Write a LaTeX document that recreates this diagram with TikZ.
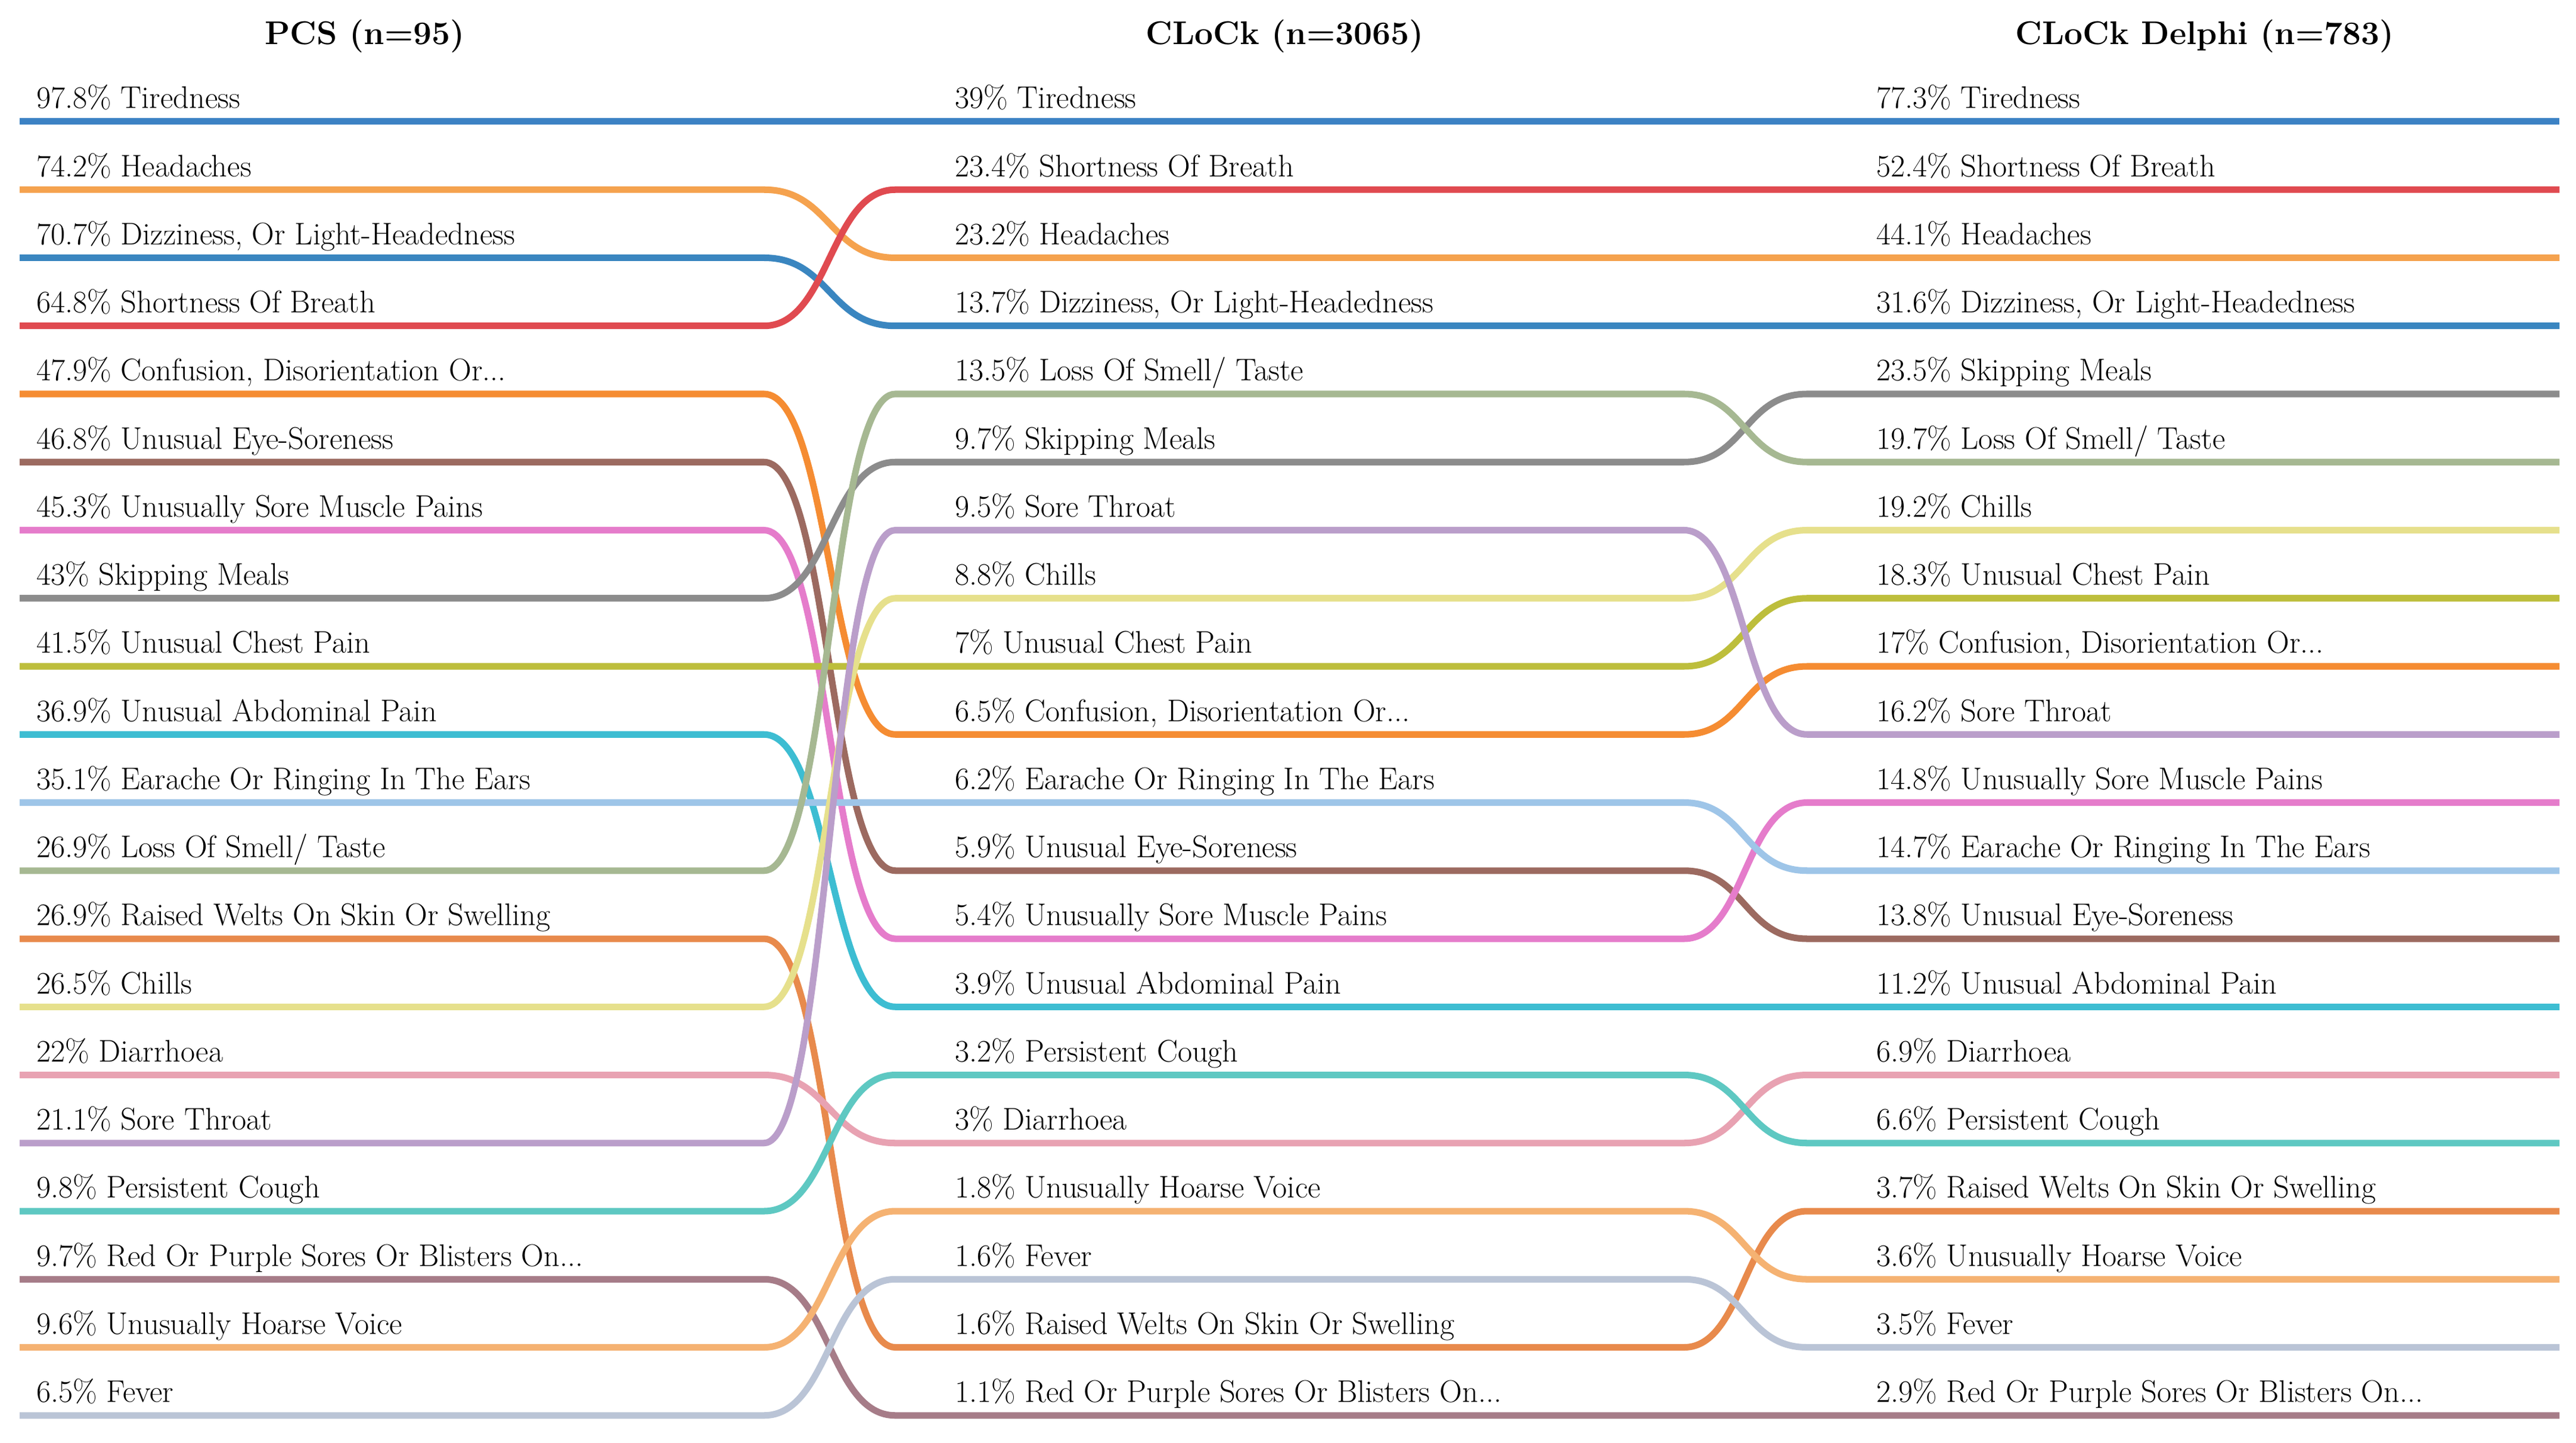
\documentclass[tikz,border=0pt]{standalone}
\begin{document}
\begin{tikzpicture}[x=1pt,y=-1pt,
  ln/.style={line width=4pt},
  lab/.style={anchor=base west,inner sep=0pt,font=\fontsize{19}{22}\selectfont},
  hd/.style={anchor=base,inner sep=0pt,font=\bfseries\fontsize{20}{24}\selectfont}]
\useasboundingbox (0,0) rectangle (1568,878);
\def\R#1{{74+41.45*(#1)}}
\newcommand\bump[4]{\draw[ln,#1] (12,\R{#2}) -- (465,\R{#2}) .. controls (505,\R{#2}) and (505,\R{#3}) .. (545,\R{#3}) -- (1025,\R{#3}) .. controls (1062,\R{#3}) and (1062,\R{#4}) .. (1100,\R{#4}) -- (1558,\R{#4});}
\newcommand\lbl[4]{\node[lab] (#1#3) at (#2,{74+41.45*#3-8}) {#4};}
\definecolor{cTir}{HTML}{3C82C4}
\definecolor{cHea}{HTML}{F5A24E}
\definecolor{cDiz}{HTML}{3A86C0}
\definecolor{cSob}{HTML}{E04A50}
\definecolor{cCon}{HTML}{F58C32}
\definecolor{cEye}{HTML}{9C6A60}
\definecolor{cMus}{HTML}{E57CCB}
\definecolor{cSki}{HTML}{8C8C8C}
\definecolor{cChe}{HTML}{BDBE3C}
\definecolor{cAbd}{HTML}{3DBDD2}
\definecolor{cEar}{HTML}{9EC5E8}
\definecolor{cSme}{HTML}{A6B892}
\definecolor{cWel}{HTML}{E88A4C}
\definecolor{cChi}{HTML}{E6E08C}
\definecolor{cDia}{HTML}{E8A2B2}
\definecolor{cThr}{HTML}{BA9ECA}
\definecolor{cCou}{HTML}{5EC8C2}
\definecolor{cRed}{HTML}{A67C88}
\definecolor{cHoa}{HTML}{F5B272}
\definecolor{cFev}{HTML}{BAC4D6}
\bump{cTir}{0}{0}{0}
\bump{cHea}{1}{2}{2}
\bump{cDiz}{2}{3}{3}
\bump{cSob}{3}{1}{1}
\bump{cCon}{4}{9}{8}
\bump{cEye}{5}{11}{12}
\bump{cMus}{6}{12}{10}
\bump{cSki}{7}{5}{4}
\bump{cChe}{8}{8}{7}
\bump{cAbd}{9}{13}{13}
\bump{cEar}{10}{10}{11}
\bump{cSme}{11}{4}{5}
\bump{cWel}{12}{18}{16}
\bump{cChi}{13}{7}{6}
\bump{cDia}{14}{15}{14}
\bump{cThr}{15}{6}{9}
\bump{cCou}{16}{14}{15}
\bump{cRed}{17}{19}{19}
\bump{cHoa}{18}{16}{17}
\bump{cFev}{19}{17}{18}
\node[hd] (h1) at (222,27) {PCS (n=95)};
\node[hd] (h2) at (782,27) {CLoCk (n=3065)};
\node[hd] (h3) at (1342,27) {CLoCk Delphi (n=783)};
\lbl{a}{22}{0}{97.8\% Tiredness}
\lbl{a}{22}{1}{74.2\% Headaches}
\lbl{a}{22}{2}{70.7\% Dizziness, Or Light-Headedness}
\lbl{a}{22}{3}{64.8\% Shortness Of Breath}
\lbl{a}{22}{4}{47.9\% Confusion, Disorientation Or...}
\lbl{a}{22}{5}{46.8\% Unusual Eye-Soreness}
\lbl{a}{22}{6}{45.3\% Unusually Sore Muscle Pains}
\lbl{a}{22}{7}{43\% Skipping Meals}
\lbl{a}{22}{8}{41.5\% Unusual Chest Pain}
\lbl{a}{22}{9}{36.9\% Unusual Abdominal Pain}
\lbl{a}{22}{10}{35.1\% Earache Or Ringing In The Ears}
\lbl{a}{22}{11}{26.9\% Loss Of Smell/ Taste}
\lbl{a}{22}{12}{26.9\% Raised Welts On Skin Or Swelling}
\lbl{a}{22}{13}{26.5\% Chills}
\lbl{a}{22}{14}{22\% Diarrhoea}
\lbl{a}{22}{15}{21.1\% Sore Throat}
\lbl{a}{22}{16}{9.8\% Persistent Cough}
\lbl{a}{22}{17}{9.7\% Red Or Purple Sores Or Blisters On...}
\lbl{a}{22}{18}{9.6\% Unusually Hoarse Voice}
\lbl{a}{22}{19}{6.5\% Fever}
\lbl{b}{581}{0}{39\% Tiredness}
\lbl{b}{581}{1}{23.4\% Shortness Of Breath}
\lbl{b}{581}{2}{23.2\% Headaches}
\lbl{b}{581}{3}{13.7\% Dizziness, Or Light-Headedness}
\lbl{b}{581}{4}{13.5\% Loss Of Smell/ Taste}
\lbl{b}{581}{5}{9.7\% Skipping Meals}
\lbl{b}{581}{6}{9.5\% Sore Throat}
\lbl{b}{581}{7}{8.8\% Chills}
\lbl{b}{581}{8}{7\% Unusual Chest Pain}
\lbl{b}{581}{9}{6.5\% Confusion, Disorientation Or...}
\lbl{b}{581}{10}{6.2\% Earache Or Ringing In The Ears}
\lbl{b}{581}{11}{5.9\% Unusual Eye-Soreness}
\lbl{b}{581}{12}{5.4\% Unusually Sore Muscle Pains}
\lbl{b}{581}{13}{3.9\% Unusual Abdominal Pain}
\lbl{b}{581}{14}{3.2\% Persistent Cough}
\lbl{b}{581}{15}{3\% Diarrhoea}
\lbl{b}{581}{16}{1.8\% Unusually Hoarse Voice}
\lbl{b}{581}{17}{1.6\% Fever}
\lbl{b}{581}{18}{1.6\% Raised Welts On Skin Or Swelling}
\lbl{b}{581}{19}{1.1\% Red Or Purple Sores Or Blisters On...}
\lbl{c}{1142}{0}{77.3\% Tiredness}
\lbl{c}{1142}{1}{52.4\% Shortness Of Breath}
\lbl{c}{1142}{2}{44.1\% Headaches}
\lbl{c}{1142}{3}{31.6\% Dizziness, Or Light-Headedness}
\lbl{c}{1142}{4}{23.5\% Skipping Meals}
\lbl{c}{1142}{5}{19.7\% Loss Of Smell/ Taste}
\lbl{c}{1142}{6}{19.2\% Chills}
\lbl{c}{1142}{7}{18.3\% Unusual Chest Pain}
\lbl{c}{1142}{8}{17\% Confusion, Disorientation Or...}
\lbl{c}{1142}{9}{16.2\% Sore Throat}
\lbl{c}{1142}{10}{14.8\% Unusually Sore Muscle Pains}
\lbl{c}{1142}{11}{14.7\% Earache Or Ringing In The Ears}
\lbl{c}{1142}{12}{13.8\% Unusual Eye-Soreness}
\lbl{c}{1142}{13}{11.2\% Unusual Abdominal Pain}
\lbl{c}{1142}{14}{6.9\% Diarrhoea}
\lbl{c}{1142}{15}{6.6\% Persistent Cough}
\lbl{c}{1142}{16}{3.7\% Raised Welts On Skin Or Swelling}
\lbl{c}{1142}{17}{3.6\% Unusually Hoarse Voice}
\lbl{c}{1142}{18}{3.5\% Fever}
\lbl{c}{1142}{19}{2.9\% Red Or Purple Sores Or Blisters On...}
\end{tikzpicture}
\end{document}
